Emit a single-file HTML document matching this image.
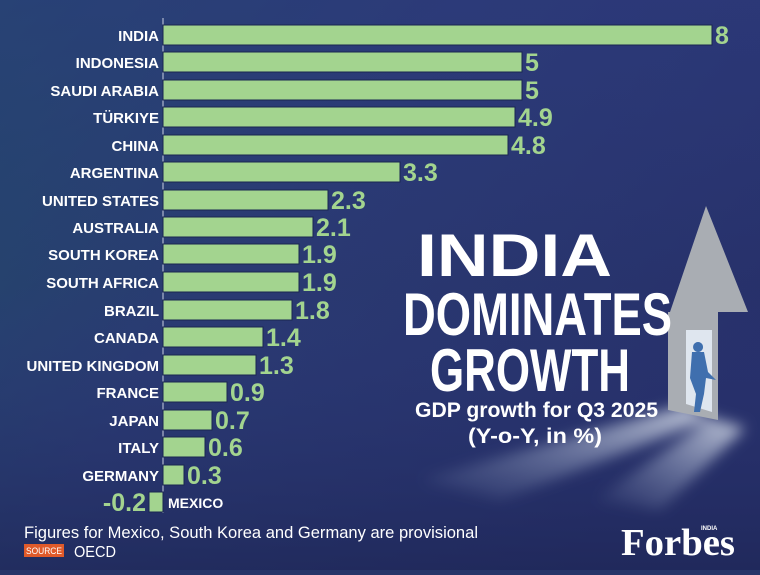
<!DOCTYPE html>
<html><head><style>
html,body{margin:0;padding:0}
body{width:760px;height:570px;overflow:hidden;background:#263468}
</style></head><body>
<svg width="760" height="570" xmlns="http://www.w3.org/2000/svg">
<defs>
<linearGradient id="bg" x1="0" y1="0" x2="1" y2="0.6">
<stop offset="0" stop-color="#22496a"/><stop offset="0.45" stop-color="#2a3a72"/><stop offset="1" stop-color="#27306a"/>
</linearGradient>
<linearGradient id="bg2" x1="0" y1="0" x2="0" y2="1">
<stop offset="0" stop-color="#2e3a80" stop-opacity="0.5"/><stop offset="0.5" stop-color="#2e3a80" stop-opacity="0"/><stop offset="1" stop-color="#1c2452" stop-opacity="0.6"/>
</linearGradient>
<linearGradient id="beam" x1="1" y1="0" x2="0" y2="1">
<stop offset="0" stop-color="#e8eef5" stop-opacity="0.8"/><stop offset="1" stop-color="#9fb0d0" stop-opacity="0"/>
</linearGradient>
<filter id="bl"><feGaussianBlur stdDeviation="7"/></filter>
</defs>
<rect width="760" height="570" fill="url(#bg)"/>
<rect width="760" height="570" fill="url(#bg2)"/>
<g filter="url(#bl)">
<polygon points="686,405 712,418 500,500 420,480" fill="url(#beam)"/>
<polygon points="712,418 745,428 660,510 595,500" fill="url(#beam)"/>
</g>
<polygon points="706,206 748,312 718,312 718,420 668,410 668,312 670,312" fill="#a9adb3"/>
<polygon points="686,330 712,330 712,412 686,404" fill="#dfe6ef"/>
<path d="M698,342 a5,5 0 1 0 0.1,0 M692,352 L704,352 L708,372 L716,380 L706,378 L704,394 L700,412 L694,412 L696,394 L690,378 Z" fill="#3f6fae"/>
<line x1="163" y1="18" x2="163" y2="513" stroke="#c9cfe0" stroke-width="1"/>
<g fill="#a3d48f" stroke="#1a2650" stroke-width="1">
<rect x="163" y="25" width="549" height="20"/>
<rect x="163" y="52" width="359" height="20"/>
<rect x="163" y="80" width="359" height="20"/>
<rect x="163" y="107" width="352" height="20"/>
<rect x="163" y="135" width="345" height="20"/>
<rect x="163" y="162" width="237" height="20"/>
<rect x="163" y="190" width="165" height="20"/>
<rect x="163" y="217" width="150" height="20"/>
<rect x="163" y="244" width="136" height="20"/>
<rect x="163" y="272" width="136" height="20"/>
<rect x="163" y="300" width="129" height="20"/>
<rect x="163" y="327" width="100" height="20"/>
<rect x="163" y="355" width="93" height="20"/>
<rect x="163" y="382" width="64" height="20"/>
<rect x="163" y="410" width="49" height="20"/>
<rect x="163" y="437" width="42" height="20"/>
<rect x="163" y="465" width="21" height="20"/>
<rect x="149" y="492" width="14" height="20"/>
</g>
<g font-family="Liberation Sans, sans-serif" font-weight="bold" font-size="15" fill="#ffffff" text-anchor="end">
<text x="159" y="41">INDIA</text>
<text x="159" y="68">INDONESIA</text>
<text x="159" y="96">SAUDI ARABIA</text>
<text x="159" y="123">TÜRKIYE</text>
<text x="159" y="151">CHINA</text>
<text x="159" y="178">ARGENTINA</text>
<text x="159" y="206">UNITED STATES</text>
<text x="159" y="233">AUSTRALIA</text>
<text x="159" y="260">SOUTH KOREA</text>
<text x="159" y="288">SOUTH AFRICA</text>
<text x="159" y="316">BRAZIL</text>
<text x="159" y="343">CANADA</text>
<text x="159" y="371">UNITED KINGDOM</text>
<text x="159" y="398">FRANCE</text>
<text x="159" y="426">JAPAN</text>
<text x="159" y="453">ITALY</text>
<text x="159" y="481">GERMANY</text>
<text x="168" y="508" text-anchor="start" font-size="14">MEXICO</text>
</g>
<g font-family="Liberation Sans, sans-serif" font-weight="bold" font-size="25" fill="#a3d48f">
<text x="715" y="44">8</text>
<text x="525" y="71">5</text>
<text x="525" y="99">5</text>
<text x="518" y="126">4.9</text>
<text x="511" y="154">4.8</text>
<text x="403" y="181">3.3</text>
<text x="331" y="209">2.3</text>
<text x="316" y="236">2.1</text>
<text x="302" y="263">1.9</text>
<text x="302" y="291">1.9</text>
<text x="295" y="319">1.8</text>
<text x="266" y="346">1.4</text>
<text x="259" y="374">1.3</text>
<text x="230" y="401">0.9</text>
<text x="215" y="429">0.7</text>
<text x="208" y="456">0.6</text>
<text x="187" y="484">0.3</text>
<text x="146" y="511" text-anchor="end">-0.2</text>
</g>
<g font-family="Liberation Sans, sans-serif" font-weight="bold" fill="#ffffff">
<text x="417" y="276" font-size="60" textLength="195" lengthAdjust="spacingAndGlyphs">INDIA</text>
<text x="403" y="335" font-size="60" textLength="269" lengthAdjust="spacingAndGlyphs">DOMINATES</text>
<text x="430" y="391" font-size="60" textLength="200" lengthAdjust="spacingAndGlyphs">GROWTH</text>
<text x="415" y="417" font-size="21" textLength="243" lengthAdjust="spacingAndGlyphs">GDP growth for Q3 2025</text>
<text x="468" y="443" font-size="21" textLength="134" lengthAdjust="spacingAndGlyphs">(Y-o-Y, in %)</text>
</g>
<g font-family="Liberation Sans, sans-serif" fill="#ffffff">
<text x="24" y="538" font-size="17" textLength="454" lengthAdjust="spacingAndGlyphs">Figures for Mexico, South Korea and Germany are provisional</text>
<rect x="24" y="544" width="40" height="13" fill="#e05a2a"/>
<text x="26" y="554" font-size="9" textLength="36" lengthAdjust="spacingAndGlyphs">SOURCE</text>
<text x="74" y="557" font-size="16" textLength="42" lengthAdjust="spacingAndGlyphs">OECD</text>
<text x="621" y="555" font-family="Liberation Serif, serif" font-weight="bold" font-size="38" textLength="114" lengthAdjust="spacingAndGlyphs">Forbes</text>
<text x="701" y="530" font-size="6" font-weight="bold">INDIA</text>
</g>
</svg>
</body></html>
